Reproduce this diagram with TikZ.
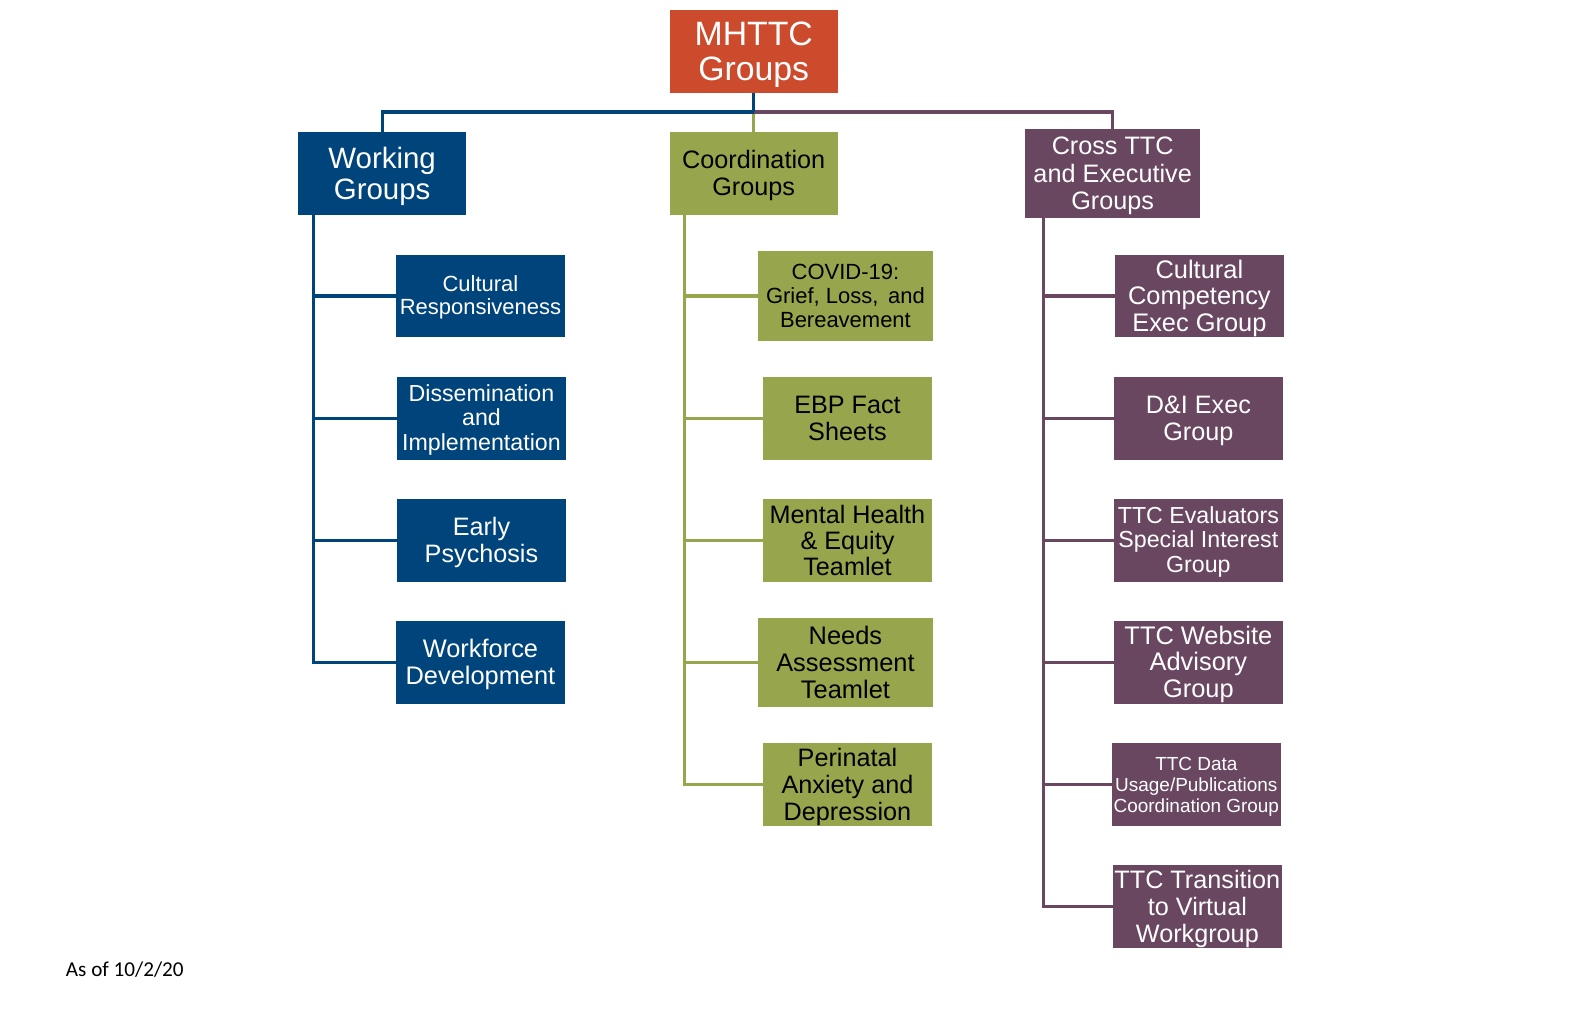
\documentclass[tikz,border=0pt]{standalone}
\usepackage{fontspec}
\setmainfont{Liberation Sans}
\newfontfamily\calib{Carlito}
\definecolor{mblue}{HTML}{00447C}
\definecolor{molive}{HTML}{97A54C}
\definecolor{mpurple}{HTML}{6A4760}
\definecolor{morange}{HTML}{CC4B2C}
\newcommand\dn[1]{\rule{0pt}{\dimexpr0.74em+#1\relax}}
\tikzset{
  box/.style={rectangle, inner sep=0pt, align=center, minimum width=83.5pt, minimum height=41pt, font=\fontsize{12.5}{13.4}\selectfont},
  wbox/.style={box, fill=mblue, text=white},
  cbox/.style={box, fill=molive, text=black},
  xbox/.style={box, fill=mpurple, text=white},
  wline/.style={draw=mblue, line width=1.6pt},
  cline/.style={draw=molive, line width=1.6pt},
  xline/.style={draw=mpurple, line width=1.6pt},
}
\begin{document}
\begin{tikzpicture}[x=0.5pt, y=-0.5pt]
\useasboundingbox[fill=white] (0,0) rectangle (1567,1004);
% top level
\node[box, fill=morange, text=white, font=\fontsize{16.75}{17.5}\selectfont] (top) at (747.5,51) {\dn{2.5pt}MHTTC\\Groups};
\node[wbox, minimum width=83pt, font=\fontsize{14.6}{15.4}\selectfont] (wg) at (379,172) {\dn{2.8pt}Working\\Groups};
\node[cbox] (cg) at (747.5,172) {\dn{2pt}Coordination\\Groups};
\node[xbox, minimum width=86.5pt, minimum height=44pt, font=\fontsize{12.5}{13.6}\selectfont] (xg) at (1103.5,172) {\dn{2pt}Cross TTC\\and Executive\\Groups};
% working children
\node[wbox, minimum height=40.5pt, font=\fontsize{10.9}{11.6}\selectfont] (w1) at (476.5,293.5) {\dn{1.5pt}Cultural\\Responsiveness};
\node[wbox, font=\fontsize{11.5}{12.1}\selectfont] (w2) at (477.5,415) {\dn{1pt}Dissemination\\and\\Implementation};
\node[wbox, font=\fontsize{12.5}{13.3}\selectfont] (w3) at (477.5,536) {\dn{2pt}Early\\Psychosis};
\node[wbox, font=\fontsize{12.6}{13.5}\selectfont] (w4) at (476.5,657) {\dn{2pt}Workforce\\Development};
% coordination children
\node[cbox, minimum width=86.5pt, minimum height=44.5pt, font=\fontsize{10.9}{12}\selectfont] (c1) at (838.5,293.5) {COVID-19:\\Grief, Loss,\, and\\Bereavement};
\node[cbox] (c2) at (840.5,415) {EBP Fact\\Sheets};
\node[cbox, font=\fontsize{12.5}{13.1}\selectfont] (c3) at (840.5,536) {Mental Health\\\& Equity\\Teamlet};
\node[cbox, minimum width=86.5pt, minimum height=44pt, font=\fontsize{12.6}{13.3}\selectfont] (c4) at (838.5,657) {Needs\\Assessment\\Teamlet};
\node[cbox, font=\fontsize{12.5}{13.3}\selectfont] (c5) at (840.5,778) {\dn{2pt}Perinatal\\Anxiety and\\Depression};
% cross children
\node[xbox, minimum height=40.5pt, font=\fontsize{12.6}{13.1}\selectfont] (x1) at (1189.5,293.5) {\dn{2pt}Cultural\\Competency\\Exec Group};
\node[xbox] (x2) at (1188.5,415) {\dn{1.5pt}D\&I Exec\\Group};
\node[xbox, font=\fontsize{11.5}{12.2}\selectfont] (x3) at (1188.5,536) {\dn{1pt}TTC Evaluators\\Special Interest\\Group};
\node[xbox, font=\fontsize{12.6}{13.1}\selectfont] (x4) at (1188.5,657) {\dn{1.5pt}TTC Website\\Advisory\\Group};
\node[xbox, font=\fontsize{9.4}{10.4}\selectfont] (x5) at (1186.5,778) {\dn{2pt}TTC Data\\Usage/Publications\\Coordination Group};
\node[xbox, font=\fontsize{12.5}{13.4}\selectfont] (x6) at (1187.5,899) {\dn{2pt}TTC Transition\\to Virtual\\Workgroup};
% note
\node[anchor=base west, inner sep=0pt, font=\calib\fontsize{10.5}{12}\selectfont] (note) at (65,968) {As of 10/2/20};
% bus
\coordinate (bus) at (747.5,111);
\draw[cline] (bus) -- (cg.north);
\draw[wline] (bus) -| (wg.north);
\draw[xline] (bus) -| (xg.north);
\draw[wline] (top.south) -- (bus);
% working branch
\coordinate (wv) at (311,213);
\draw[wline] (wv) |- (w4.west);
\foreach \n in {w1,w2,w3} \draw[wline] (wv |- \n.west) -- (\n.west);
% coordination branch
\coordinate (cv) at (679,213);
\draw[cline] (cv) |- (c5.west);
\foreach \n in {c1,c2,c3,c4} \draw[cline] (cv |- \n.west) -- (\n.west);
% cross branch
\coordinate (xv) at (1035,216);
\draw[xline] (xv) |- (x6.west);
\foreach \n in {x1,x2,x3,x4,x5} \draw[xline] (xv |- \n.west) -- (\n.west);
\end{tikzpicture}
\end{document}
